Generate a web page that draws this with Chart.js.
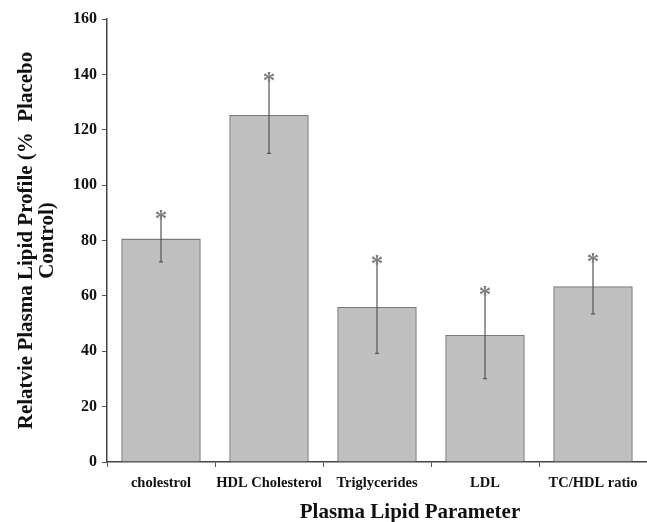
<!DOCTYPE html>
<html>
<head>
<meta charset="utf-8">
<script src="https://cdn.jsdelivr.net/npm/chart.js@4"></script>
<style>
  body { margin: 0; background: #fff; }
  #wrap { width: 647px; height: 522px; position: relative; }
</style>
</head>
<body>
<div id="wrap"><canvas id="lipidChart"></canvas></div>
<script>
// Data
const categories = ['cholestrol', 'HDL Cholesterol', 'Triglycerides', 'LDL', 'TC/HDL ratio'];
const meanValues = [80.7, 125.3, 56.0, 45.9, 63.5];
const errorValues = [8.4, 13.8, 16.8, 15.8, 10.0];
const yTicks = [0, 20, 40, 60, 80, 100, 120, 140, 160];

const serif = "'Liberation Serif', 'Times New Roman', serif";

// Error bars plus the significance asterisk above each one
const errorBarPlugin = {
  id: 'errorBars',
  afterDatasetsDraw(chart) {
    const ctx = chart.ctx;
    const yScale = chart.scales.y;
    const meta = chart.getDatasetMeta(0);
    ctx.save();
    meta.data.forEach((bar, i) => {
      const x = bar.x;
      const top = yScale.getPixelForValue(meanValues[i] + errorValues[i]);
      const bottom = yScale.getPixelForValue(meanValues[i] - errorValues[i]);
      ctx.strokeStyle = '#555';
      ctx.lineWidth = 1.2;
      ctx.beginPath();
      ctx.moveTo(x, top);
      ctx.lineTo(x, bottom);
      ctx.moveTo(x - 2, top);
      ctx.lineTo(x + 2, top);
      ctx.moveTo(x - 2, bottom);
      ctx.lineTo(x + 2, bottom);
      ctx.stroke();

      // asterisk
      ctx.fillStyle = '#808080';
      ctx.font = 'bold 25px ' + serif;
      ctx.textAlign = 'center';
      ctx.textBaseline = 'alphabetic';
      ctx.fillText('*', x, top + 12);
    });
    ctx.restore();
  }
};

// X axis title, sitting a little right of the plot centre like the original
const xTitlePlugin = {
  id: 'xTitle',
  afterDraw(chart) {
    const ctx = chart.ctx;
    const area = chart.chartArea;
    ctx.save();
    ctx.fillStyle = '#111';
    ctx.font = 'bold 21px ' + serif;
    ctx.textAlign = 'center';
    ctx.textBaseline = 'alphabetic';
    ctx.fillText('Plasma Lipid Parameter', (area.left + area.right) / 2 + 33, 518);
    ctx.restore();
  }
};

const ctx = document.getElementById('lipidChart').getContext('2d');
new Chart(ctx, {
  type: 'bar',
  data: {
    labels: categories,
    datasets: [{
      label: 'Relative plasma lipid profile',
      data: meanValues,
      backgroundColor: '#c0c0c0',
      borderColor: '#7a7a7a',
      borderWidth: 1.5,
      barPercentage: 0.736,
      categoryPercentage: 1.0
    }]
  },
  options: {
    responsive: true,
    maintainAspectRatio: false,
    animation: false,
    layout: { padding: { top: 19, right: 0, left: 0, bottom: 0 } },
    plugins: {
      legend: { display: false },
      tooltip: { enabled: false }
    },
    scales: {
      x: {
        grid: {
          display: true,
          drawOnChartArea: false,
          drawTicks: true,
          tickLength: 5,
          color: '#555'
        },
        border: { display: true, color: '#444', width: 1.5 },
        ticks: {
          color: '#111',
          padding: 8,
          maxRotation: 0,
          autoSkip: false,
          font: { family: serif, size: 14.5, weight: 'bold' }
        },
        afterFit(scale) { scale.height = 60; }
      },
      y: {
        min: 0,
        max: 160,
        afterBuildTicks(scale) {
          scale.ticks = yTicks.map(v => ({ value: v }));
        },
        grid: {
          display: true,
          drawOnChartArea: false,
          drawTicks: true,
          tickLength: 5,
          color: '#555'
        },
        border: { display: true, color: '#444', width: 1.5 },
        ticks: {
          color: '#111',
          padding: 5,
          font: { family: serif, size: 16, weight: 'bold' }
        },
        title: {
          display: true,
          text: ['Relatvie Plasma Lipid Profile (%  Placebo', 'Control)'],
          color: '#111',
          font: { family: serif, size: 21, weight: 'bold', lineHeight: 1.0 },
          padding: { top: 16, bottom: 0 }
        },
        afterFit(scale) { scale.width = 107; }
      }
    }
  },
  plugins: [errorBarPlugin, xTitlePlugin]
});
</script>
</body>
</html>
